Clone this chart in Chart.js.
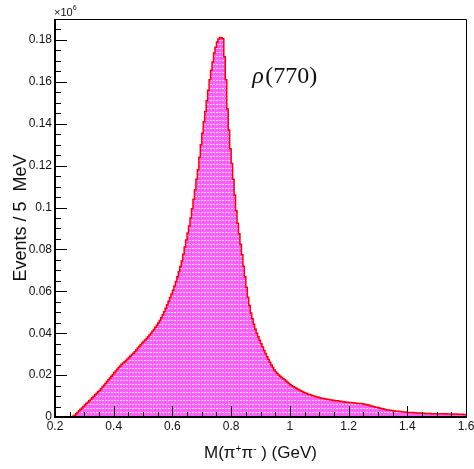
<!DOCTYPE html>
<html>
<head>
<meta charset="utf-8">
<script src="https://cdn.jsdelivr.net/npm/chart.js@4.4.0/dist/chart.umd.min.js"></script>
<style>
  html, body { margin: 0; padding: 0; background: #fff; }
  #wrap { width: 474px; height: 469px; }
</style>
</head>
<body>
<div id="wrap"><canvas id="mass" width="474" height="469"></canvas></div>
<script>
"use strict";

// pi+ pi- invariant mass, 5 MeV bins from 0.2 to 1.6 GeV (events in units of 10^6)
const massLow = 0.2;
const massHigh = 1.6;
const binWidth = 0.005;
const eventsE6 = [
  0, 0, 0, 0, 0, 0, 0, 0, 0, 0,
  0, 0.0001, 0.0004, 0.0008, 0.0015, 0.0022, 0.0030, 0.0037, 0.0043, 0.0050,
  0.0057, 0.0064, 0.0071, 0.0078, 0.0085, 0.0092, 0.0099, 0.0106, 0.0113, 0.0120,
  0.0127, 0.0135, 0.0143, 0.0152, 0.0160, 0.0169, 0.0178, 0.0186, 0.0195, 0.0203,
  0.0212, 0.0220, 0.0228, 0.0236, 0.0244, 0.0252, 0.0258, 0.0264, 0.0270, 0.0277,
  0.0284, 0.0291, 0.0298, 0.0304, 0.0311, 0.0320, 0.0329, 0.0337, 0.0345, 0.0353,
  0.0360, 0.0367, 0.0375, 0.0383, 0.0391, 0.0400, 0.0409, 0.0418, 0.0428, 0.0438,
  0.0449, 0.0461, 0.0474, 0.0488, 0.0503, 0.0519, 0.0536, 0.0553, 0.0570, 0.0587,
  0.0605, 0.0625, 0.0647, 0.0670, 0.0694, 0.0718, 0.0745, 0.0777, 0.0812, 0.0845,
  0.0878, 0.0912, 0.0950, 0.0994, 0.1040, 0.1085, 0.1135, 0.1180, 0.1240, 0.1300,
  0.1355, 0.1410, 0.1458, 0.1510, 0.1560, 0.1610, 0.1655, 0.1695, 0.1738, 0.1765,
  0.1790, 0.1805, 0.1812, 0.1810, 0.1806, 0.1720, 0.1610, 0.1470, 0.1370, 0.1280,
  0.1210, 0.1135, 0.1060, 0.0985, 0.0925, 0.0875, 0.0825, 0.0775, 0.0720, 0.0670,
  0.0620, 0.0572, 0.0532, 0.0497, 0.0470, 0.0443, 0.0420, 0.0400, 0.0383, 0.0366,
  0.0350, 0.0334, 0.0318, 0.0303, 0.0288, 0.0274, 0.0261, 0.0248, 0.0236, 0.0224,
  0.0215, 0.0208, 0.0201, 0.0195, 0.0189, 0.0183, 0.0178, 0.0172, 0.0166, 0.0160,
  0.0154, 0.0149, 0.0145, 0.0141, 0.0137, 0.0133, 0.0129, 0.0125, 0.0122, 0.0118,
  0.0115, 0.0112, 0.0109, 0.0107, 0.0105, 0.0102, 0.0100, 0.0098, 0.0096, 0.0094,
  0.0092, 0.0090, 0.0089, 0.0087, 0.0086, 0.0085, 0.0083, 0.0082, 0.0081, 0.0080,
  0.0079, 0.0078, 0.0077, 0.0076, 0.0075, 0.0074, 0.0073, 0.0072, 0.0071, 0.0070,
  0.0069, 0.0069, 0.0068, 0.0068, 0.0067, 0.0066, 0.0065, 0.0065, 0.0064, 0.0063,
  0.0062, 0.0060, 0.0058, 0.0057, 0.0055, 0.0053, 0.0051, 0.0049, 0.0047, 0.0046,
  0.0044, 0.0042, 0.0040, 0.0039, 0.0037, 0.0035, 0.0034, 0.0033, 0.0032, 0.0031,
  0.0030, 0.0029, 0.0028, 0.0027, 0.0027, 0.0026, 0.0025, 0.0024, 0.0024, 0.0023,
  0.0022, 0.0022, 0.0021, 0.0021, 0.0020, 0.0020, 0.0019, 0.0019, 0.0019, 0.0018,
  0.0018, 0.0018, 0.0017, 0.0017, 0.0017, 0.0017, 0.0016, 0.0016, 0.0016, 0.0016,
  0.0016, 0.0015, 0.0015, 0.0015, 0.0015, 0.0015, 0.0015, 0.0014, 0.0014, 0.0014,
  0.0014, 0.0014, 0.0014, 0.0014, 0.0013, 0.0013, 0.0013, 0.0013, 0.0012, 0.0012
];

const xTicks = [0.2, 0.4, 0.6, 0.8, 1, 1.2, 1.4, 1.6];
const yTicks = [0, 0.02, 0.04, 0.06, 0.08, 0.1, 0.12, 0.14, 0.16, 0.18];
const yMax = 0.19;

// left bin edges, plus a closing point so the last bin gets its full width
const points = eventsE6.map((v, i) => ({ x: massLow + i * binWidth, y: v }));
points.push({ x: massHigh, y: eventsE6[eventsE6.length - 1] });

function dottedFill() {
  const c = document.createElement('canvas');
  c.width = 3;
  c.height = 4;
  const g = c.getContext('2d');
  g.fillStyle = '#ff5eff';
  g.fillRect(0, 0, 3, 4);
  g.fillStyle = '#ffe4ff';
  g.fillRect(0, 0, 2, 1);
  return g.createPattern(c, 'repeat');
}

function tickLabel(v) {
  return String(parseFloat(v.toFixed(2)));
}

// ROOT-like frame: ticks drawn inwards, labels and titles outside
const rootAxes = {
  id: 'rootAxes',
  afterDraw(chart) {
    const { ctx, chartArea: a, scales: { x, y } } = chart;
    ctx.save();
    ctx.strokeStyle = '#000';
    ctx.lineWidth = 1;
    ctx.beginPath();
    ctx.moveTo(a.left, a.top + 0.5);
    ctx.lineTo(a.right + 0.5, a.top + 0.5);
    ctx.lineTo(a.right + 0.5, a.bottom);
    ctx.stroke();

    ctx.lineWidth = 2;
    ctx.beginPath();
    ctx.moveTo(a.left, a.top);
    ctx.lineTo(a.left, a.bottom);
    ctx.lineTo(a.right + 1, a.bottom);
    ctx.stroke();

    ctx.lineWidth = 1;
    ctx.beginPath();
    for (let k = 0; k <= 38; k++) {
      const py = Math.round(y.getPixelForValue(k * 0.005)) + 0.5;
      ctx.moveTo(a.left, py);
      ctx.lineTo(a.left + (k % 4 === 0 ? 12 : 6), py);
    }
    for (let k = 0; k <= 28; k++) {
      const px = Math.round(x.getPixelForValue(massLow + k * 0.05)) + 0.5;
      ctx.moveTo(px, a.bottom);
      ctx.lineTo(px, a.bottom - (k % 4 === 0 ? 11 : 5));
    }
    ctx.stroke();

    ctx.fillStyle = '#111';
    ctx.font = '12px "Liberation Sans", Arial, sans-serif';
    ctx.textAlign = 'right';
    ctx.textBaseline = 'middle';
    yTicks.forEach(v => ctx.fillText(tickLabel(v), a.left - 3, y.getPixelForValue(v)));
    ctx.textAlign = 'center';
    xTicks.forEach(v => ctx.fillText(tickLabel(v), x.getPixelForValue(v), a.bottom + 10));

    // axis multiplier
    ctx.textAlign = 'left';
    ctx.textBaseline = 'alphabetic';
    ctx.font = '11px "Liberation Sans", Arial, sans-serif';
    ctx.fillText('\u00d710', a.left - 1, a.top - 3);
    const w10 = ctx.measureText('\u00d710').width;
    ctx.font = '7px "Liberation Sans", Arial, sans-serif';
    ctx.fillText('6', a.left - 1 + w10, a.top - 9);

    // y title
    ctx.font = '18px "Liberation Sans", Arial, sans-serif';
    ctx.save();
    ctx.translate(25.5, (a.top + a.bottom) / 2);
    ctx.rotate(-Math.PI / 2);
    ctx.textAlign = 'center';
    ctx.fillText('Events / 5  MeV', 0, 0);
    ctx.restore();

    // x title with superscript charges
    const parts = [
      ['M(\u03c0', 17, 0], ['+', 10, -6], ['\u03c0', 17, 0], ['-', 10, -6], [' ) (GeV)', 17, 0]
    ];
    let total = 0;
    parts.forEach(p => {
      ctx.font = p[1] + 'px "Liberation Sans", Arial, sans-serif';
      total += ctx.measureText(p[0]).width;
    });
    let cx = (a.left + a.right) / 2 - total / 2;
    ctx.textAlign = 'left';
    parts.forEach(p => {
      ctx.font = p[1] + 'px "Liberation Sans", Arial, sans-serif';
      ctx.fillText(p[0], cx, 457.5 + p[2]);
      cx += ctx.measureText(p[0]).width;
    });

    // resonance label
    let lx = x.getPixelForValue(0.872);
    const ly = y.getPixelForValue(0.1593);
    ctx.font = 'italic 24px "Liberation Serif", "DejaVu Serif", serif';
    ctx.fillText('\u03c1', lx, ly);
    lx += ctx.measureText('\u03c1').width + 1.5;
    ctx.font = '24px "Liberation Serif", "DejaVu Serif", serif';
    ctx.fillText('(770)', lx, ly);
    ctx.restore();
  }
};

new Chart(document.getElementById('mass'), {
  type: 'line',
  data: {
    datasets: [{
      label: 'M(pi+ pi-)',
      data: points,
      stepped: 'before',
      borderColor: '#ff0000',
      borderWidth: 1.5,
      backgroundColor: dottedFill(),
      fill: 'origin',
      pointRadius: 0,
      tension: 0
    }]
  },
  options: {
    responsive: false,
    animation: false,
    layout: { padding: { left: 55, top: 19, right: 8, bottom: 52 } },
    plugins: { legend: { display: false }, tooltip: { enabled: false } },
    scales: {
      x: { type: 'linear', min: massLow, max: massHigh, display: false },
      y: { type: 'linear', min: 0, max: yMax, display: false }
    }
  },
  plugins: [rootAxes]
});
</script>
</body>
</html>
